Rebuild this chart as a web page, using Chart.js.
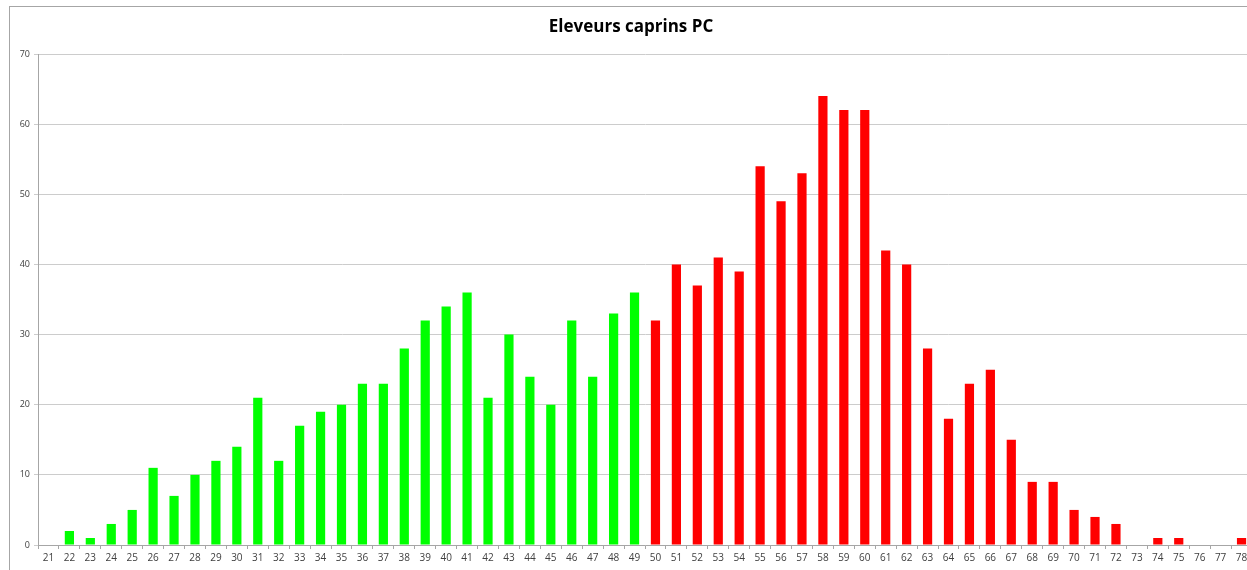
<!DOCTYPE html>
<html>
<head>
<meta charset="utf-8">
<script src="https://cdn.jsdelivr.net/npm/chart.js@4"></script>
<style>
  html, body { margin: 0; padding: 0; background: #fff; overflow: hidden; }
  #frame { position: absolute; left: 9px; top: 6px; width: 1300px; height: 600px; border: 1px solid #a6a6a6; }
  #box { position: absolute; left: 0; top: 0; width: 1252px; height: 570px; }
</style>
</head>
<body>
<div id="frame"></div>
<div id="box"><canvas id="chevres"></canvas></div>
<script>
// ages 21..78
const ages = [];
for (let a = 21; a <= 78; a++) ages.push(String(a));

const eleveurs = [
  0, 2, 1, 3, 5, 11, 7, 10, 12, 14,      // 21-30
  21, 12, 17, 19, 20, 23, 23, 28, 32, 34, // 31-40
  36, 21, 30, 24, 20, 32, 24, 33, 36, 32, // 41-50
  40, 37, 41, 39, 54, 49, 53, 64, 62, 62, // 51-60
  42, 40, 28, 18, 23, 25, 15, 9, 9, 5,    // 61-70
  4, 3, 0, 1, 1, 0, 0, 1                  // 71-78
];

const ageLimite = 50;
const couleurs = ages.map(a => Number(a) < ageLimite ? "#00ff00" : "#ff0000");

const yTicks = [0, 10, 20, 30, 40, 50, 60, 70];

document.addEventListener("DOMContentLoaded", function () {
  const ctx = document.getElementById("chevres").getContext("2d");
  new Chart(ctx, {
    type: "bar",
    data: {
      labels: ages,
      datasets: [{
        label: "Eleveurs",
        data: eleveurs,
        backgroundColor: couleurs,
        borderWidth: 0,
        barPercentage: 0.44,
        categoryPercentage: 1.0
      }]
    },
    options: {
      responsive: true,
      maintainAspectRatio: false,
      animation: false,
      layout: { padding: { left: 10, right: 0, top: 0, bottom: 0 } },
      plugins: {
        legend: { display: false },
        tooltip: { enabled: false },
        title: {
          display: true,
          text: "Eleveurs caprins PC",
          color: "#000",
          font: { family: "Open Sans", size: 17, weight: "bold" },
          padding: { top: 17, bottom: 16.6 }
        }
      },
      scales: {
        x: {
          afterFit: s => { s.height = 25; },
          grid: {
            drawOnChartArea: false,
            drawTicks: true,
            tickLength: 4,
            color: "#a6a6a6"
          },
          border: { color: "#a6a6a6" },
          ticks: {
            color: "#404040",
            font: { family: "Open Sans", size: 10 },
            padding: 3,
            maxRotation: 0,
            autoSkip: false
          }
        },
        y: {
          min: 0,
          max: 70,
          afterFit: s => { s.width = 28; },
          afterBuildTicks: s => { s.ticks = yTicks.map(v => ({ value: v })); },
          grid: {
            color: "#cccccc",
            tickLength: 4,
            lineWidth: 1
          },
          border: { color: "#a6a6a6" },
          ticks: {
            color: "#404040",
            font: { family: "Open Sans", size: 9 },
            padding: 4
          }
        }
      }
    }
  });
});
</script>
</body>
</html>
